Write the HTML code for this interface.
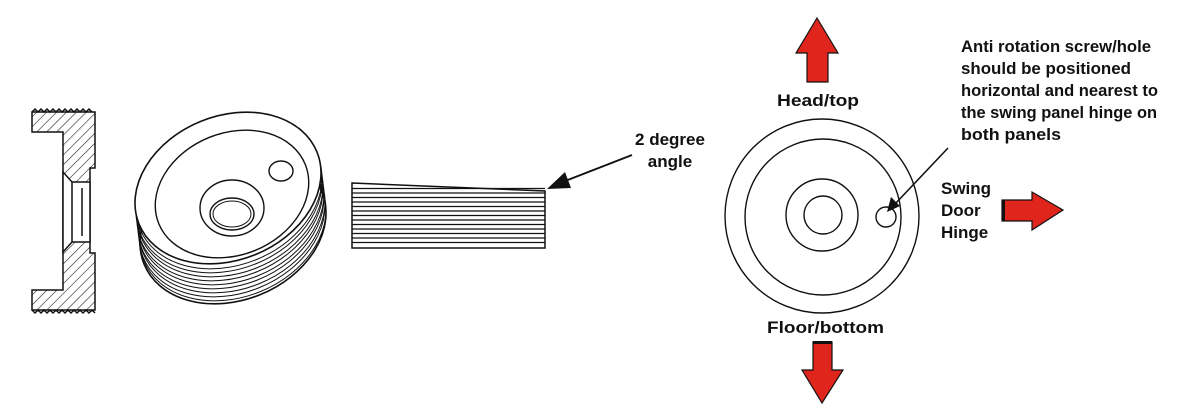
<!DOCTYPE html>
<html><head><meta charset="utf-8"><style>body{margin:0;background:#fff}svg{display:block}</style></head><body>
<svg width="1200" height="415" viewBox="0 0 1200 415" xmlns="http://www.w3.org/2000/svg" font-family="Liberation Sans, sans-serif" font-size="17" font-weight="bold" fill="#111">
<defs>
<pattern id="h" width="7" height="7" patternUnits="userSpaceOnUse" patternTransform="rotate(45)"><line x1="0" y1="0" x2="0" y2="7" stroke="#222" stroke-width="1.2"/></pattern>
<ellipse id="e" cx="0" cy="0" rx="96" ry="72" transform="rotate(-22)"/>
</defs>
<!-- cross section -->
<g stroke="#111" stroke-width="1.5">
<path d="M32 112 H95 V168 H90 V253 H95 V310 H32 V290 H63 V132 H32 Z" fill="url(#h)"/>
<path d="M63 172 L72 182 V242 L63 252 Z M72 182 H90 V242 H72" fill="#fff"/>
<path d="M82 188 V236" fill="none"/>
<path d="M32 112 l3 -3 l3 3 l3 -3 l3 3 l3 -3 l3 3 l3 -3 l3 3 l3 -3 l3 3 l3 -3 l3 3 l3 -3 l3 3 l3 -3 l3 3 l3 -3 l3 3 l3 -3 l3 3" fill="none"/>
<path d="M32 310 l3 3 l3 -3 l3 3 l3 -3 l3 3 l3 -3 l3 3 l3 -3 l3 3 l3 -3 l3 3 l3 -3 l3 3 l3 -3 l3 3 l3 -3 l3 3 l3 -3 l3 3 l3 -3 l3 3" fill="none"/>
</g>
<!-- wheel -->
<g fill="none" stroke="#111" stroke-width="1">
<use href="#e" transform="translate(229,193)"/>
<use href="#e" transform="translate(229,197)"/>
<use href="#e" transform="translate(230,201)"/>
<use href="#e" transform="translate(230,205)"/>
<use href="#e" transform="translate(231,209)"/>
<use href="#e" transform="translate(231,213)"/>
<use href="#e" transform="translate(232,217)"/>
<use href="#e" transform="translate(232,221)"/>
<use href="#e" transform="translate(233,225)"/>
<use href="#e" transform="translate(233,228)" stroke-width="1.6"/>
<use href="#e" transform="translate(228,188)" fill="#fff" stroke-width="1.6"/>
<ellipse cx="0" cy="0" rx="79" ry="61" transform="translate(232,194) rotate(-22)" stroke-width="1.4"/>
<ellipse cx="232" cy="208" rx="32" ry="28" stroke-width="1.4"/>
<ellipse cx="232" cy="214" rx="22" ry="16" stroke-width="1.4"/>
<ellipse cx="232" cy="214" rx="19" ry="13"/>
<ellipse cx="281" cy="171" rx="12" ry="10" stroke-width="1.4"/>
</g>
<!-- thread block -->
<g stroke="#111" fill="none">
<path d="M352 183 L545 191 V248 H352 Z" stroke-width="1.5"/>
<path d="M352 188.5H545M352 193H545M352 197.5H545M352 202H545M352 206.5H545M352 211H545M352 215.5H545M352 220H545M352 224.5H545M352 229H545M352 233.5H545M352 238H545M352 242.5H545" stroke-width="1.3"/>
<line x1="632" y1="155" x2="560" y2="183" stroke-width="2"/>
</g>
<polygon points="547,189 565,172 571,188" fill="#111"/>
<text x="670" y="145" text-anchor="middle">2 degree</text>
<text x="670" y="167" text-anchor="middle">angle</text>
<!-- right circle -->
<g fill="none" stroke="#111" stroke-width="1.4">
<circle cx="822" cy="216" r="97"/>
<circle cx="823" cy="217" r="78"/>
<circle cx="822" cy="215" r="36"/>
<circle cx="823" cy="215" r="19"/>
<circle cx="886" cy="217" r="10"/>
<line x1="948" y1="148" x2="895" y2="204" stroke-width="1.6"/>
</g>
<polygon points="887,212 891,197 900,206" fill="#111"/>
<!-- arrows -->
<g fill="#e0261c" stroke="#111" stroke-width="1.2">
<polygon points="817,18 838,53 828,53 828,82 807,82 807,53 796,53"/>
<polygon points="813,342 832,342 832,370 843,370 822,403 802,370 813,370"/>
<polygon points="1002,200 1032,200 1032,192 1063,210 1032,230 1032,221 1002,221"/>
</g>
<rect x="813" y="341" width="19" height="3" fill="#111"/>
<rect x="1002" y="200" width="3" height="21" fill="#111"/>
<text x="777" y="106" textLength="82" lengthAdjust="spacingAndGlyphs">Head/top</text>
<text x="767" y="333" textLength="117" lengthAdjust="spacingAndGlyphs">Floor/bottom</text>
<text x="941" y="194">Swing</text>
<text x="941" y="216">Door</text>
<text x="941" y="238">Hinge</text>
<text x="961" y="52" textLength="190" lengthAdjust="spacingAndGlyphs">Anti rotation screw/hole</text>
<text x="961" y="74" textLength="170" lengthAdjust="spacingAndGlyphs">should be positioned</text>
<text x="961" y="96" textLength="197" lengthAdjust="spacingAndGlyphs">horizontal and nearest to</text>
<text x="961" y="118" textLength="196" lengthAdjust="spacingAndGlyphs">the swing panel hinge on</text>
<text x="961" y="140" textLength="100" lengthAdjust="spacingAndGlyphs">both panels</text>
</svg>
</body></html>
